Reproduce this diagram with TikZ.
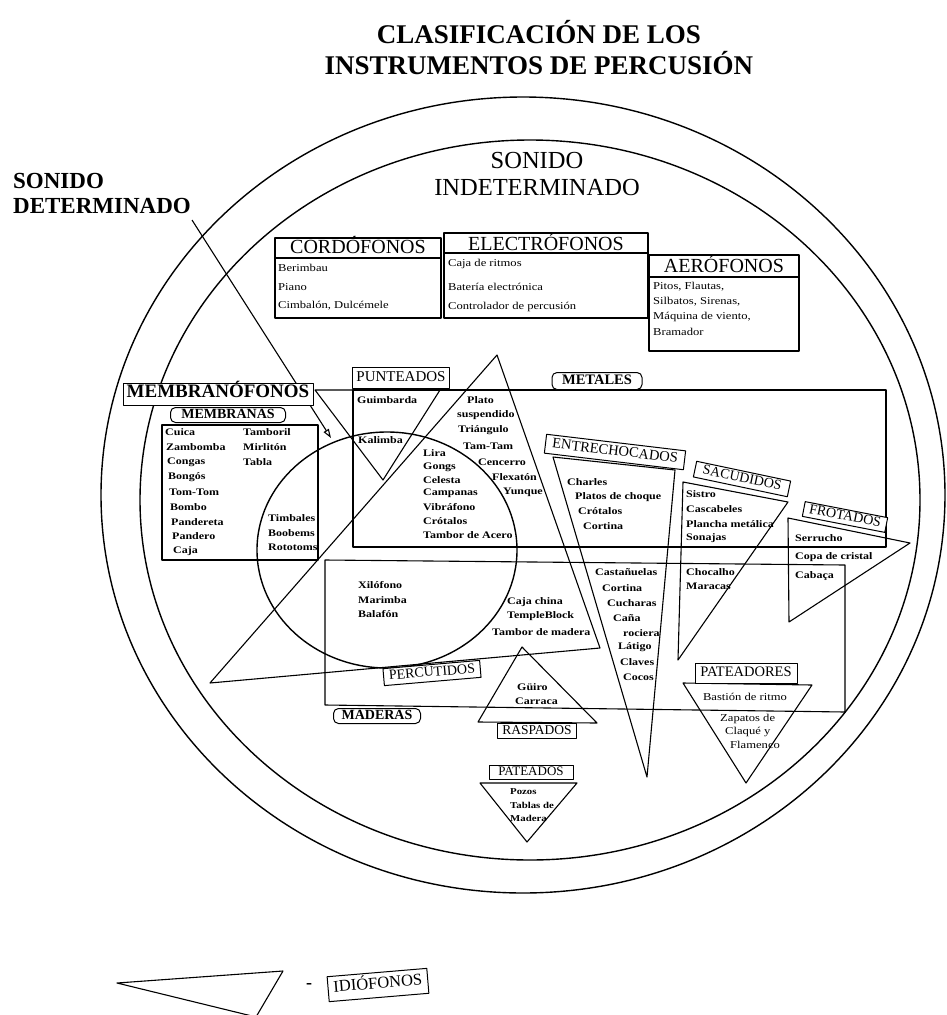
\documentclass[tikz,border=0pt]{standalone}
\usepackage{fontspec}
\setmainfont{Liberation Serif}
\newfontfamily\itemfont[FakeStretch=1.2]{Liberation Serif}
\usetikzlibrary{arrows.meta}
\begin{document}
\begin{tikzpicture}[x=1pt,y=-1pt, line join=round,
  every node/.style={inner sep=0pt},
  shp/.style={line width=1.1pt},
  ring/.style={line width=1.4pt},
  lab/.style={draw, line width=1pt, fill=white, text height=0.66em, text depth=0pt, align=center},
  rlab/.style={lab, rounded corners=5pt},
  itb/.style={anchor=west, font={\itemfont\bfseries\fontsize{10}{12}\selectfont}},
  itr/.style={anchor=west, font={\itemfont\fontsize{10.5}{12}\selectfont}},
  boxtitle/.style={anchor=base, font={\fontsize{20}{20}\selectfont}}]
\useasboundingbox (0,0) rectangle (947,1015);
\fill[white] (0,0) rectangle (947,1015);

% titles
\node[anchor=base, font={\bfseries\fontsize{27}{27}\selectfont}] (title1) at (539,43) {CLASIFICACIÓN DE LOS};
\node[anchor=base, font={\bfseries\fontsize{27}{27}\selectfont}] (title2) at (539,74) {INSTRUMENTOS DE PERCUSIÓN};
\node[anchor=base, font={\fontsize{24.5}{24.5}\selectfont}] (ind1) at (537,168) {SONIDO};
\node[anchor=base, font={\fontsize{24.5}{24.5}\selectfont}] (ind2) at (537,195) {INDETERMINADO};
\node[anchor=base west, font={\bfseries\fontsize{23}{23}\selectfont}] (det1) at (13,188) {SONIDO};
\node[anchor=base west, font={\bfseries\fontsize{23}{23}\selectfont}] (det2) at (13,213) {DETERMINADO};

% circles
\draw[ring] (523,495) ellipse [x radius=422pt, y radius=398pt];
\draw[ring] (530,500) ellipse [x radius=390pt, y radius=360pt];
\draw[ring] (387,550) ellipse [x radius=130pt, y radius=118pt];

% big triangle and families
\draw[shp] (497,355) -- (600,648) -- (210,683) -- cycle;
\draw[shp] (315,390) -- (440,390) -- (383,480) -- cycle;
\draw[shp] (353,390) rectangle (886,547);
\draw[shp] (325,560) -- (845,565) -- (845,712) -- (325,705) -- cycle;
\draw[shp] (162,425) rectangle (318,560);
\draw[shp] (553,457) -- (675,470) -- (647,777) -- cycle;
\draw[shp] (683,482) -- (788,502) -- (678,660) -- cycle;
\draw[shp] (788,518) -- (910,543) -- (789,622) -- cycle;
\draw[shp] (522,647) -- (597,723) -- (478,722) -- cycle;
\draw[shp] (683,683) -- (812,685) -- (746,783) -- cycle;
\draw[shp] (480,783) -- (577,783) -- (527,842) -- cycle;

% top boxes
\draw[shp] (275,238) rectangle (441,318); \draw[shp] (275,258) -- (441,258);
\draw[shp] (444,233) rectangle (648,318); \draw[shp] (444,253) -- (648,253);
\draw[shp] (649,255) rectangle (799,351); \draw[shp] (649,277) -- (799,277);
\node[boxtitle] (cordo) at (358,253) {CORDÓFONOS};
\node[boxtitle] (electro) at (546,250) {ELECTRÓFONOS};
\node[boxtitle] (aero) at (724,272) {AERÓFONOS};

% pointer
\coordinate (ptrS) at (192,220);
\coordinate (ptrE) at (331,438);
\draw[shp, -{Triangle[open,length=9pt,width=6pt]}] (ptrS) -- (ptrE);

% labels
\node[lab, minimum width=190pt, minimum height=22pt, font={\bfseries\fontsize{19}{19}\selectfont}] (membranofonos) at (218,394) {MEMBRANÓFONOS};
\node[rlab, minimum width=115pt, minimum height=15pt, font={\bfseries\fontsize{14}{14}\selectfont}] (membranas) at (228,415) {MEMBRANAS};
\node[lab, minimum width=97pt, minimum height=21pt, font={\fontsize{15}{15}\selectfont}] (punteados) at (401,378) {PUNTEADOS};
\node[rlab, minimum width=90pt, minimum height=17pt, font={\bfseries\fontsize{14.5}{14.5}\selectfont}] (metales) at (597,381) {METALES};
\node[rlab, minimum width=87pt, minimum height=15pt, font={\bfseries\fontsize{14}{14}\selectfont}] (maderas) at (377,716) {MADERAS};
\node[lab, minimum width=79pt, minimum height=15pt, font={\fontsize{13.5}{13.5}\selectfont}] (raspados) at (537,731) {RASPADOS};
\node[lab, minimum width=102pt, minimum height=20pt, font={\fontsize{14.5}{14.5}\selectfont}] (pateadores) at (746,673) {PATEADORES};
\node[lab, minimum width=84pt, minimum height=14pt, font={\fontsize{13}{13}\selectfont}] (pateados) at (531,772) {PATEADOS};
\node[lab, rotate=-6.8, minimum width=140pt, minimum height=19pt, font={\fontsize{14.5}{14.5}\selectfont}] (entre) at (615,452) {ENTRECHOCADOS};
\node[lab, rotate=-11.9, minimum width=96pt, minimum height=16pt, font={\fontsize{14}{14}\selectfont}] (sacud) at (742,479) {SACUDIDOS};
\node[lab, rotate=-11, minimum width=84pt, minimum height=15pt, font={\fontsize{14}{14}\selectfont}] (frot) at (845,517) {FROTADOS};
\node[lab, rotate=4.9, minimum width=97pt, minimum height=17pt, font={\fontsize{14}{14}\selectfont}] (percut) at (432,673) {PERCUTIDOS};

% items: top boxes
\foreach \t/\y [count=\i] in {Berimbau/268, Piano/287, {Cimbalón, Dulcémele}/306}
  \node[itr, name=cor\i] at (278,\y) {\t};
\foreach \t/\y [count=\i] in {Caja de ritmos/264, Batería electrónica/287, Controlador de percusión/307}
  \node[itr, name=ele\i] at (448,\y) {\t};
\foreach \t/\y [count=\i] in {{Pitos, Flautas,}/287, {Silbatos, Sirenas,}/302, {Máquina de viento,}/317, Bramador/332}
  \node[itr, name=aer\i] at (653,\y) {\t};

% membranas
\foreach \t/\y [count=\i] in {Cuica/432, Zambomba/447, Congas/462, Bongós/477, Tom-Tom/492, Bombo/507, Pandereta/522, Pandero/536, Caja/551}
  \node[itb, name=mema\i] at (164+\i,\y) {\t};
\foreach \t/\y [count=\i] in {Tamboril/432, Mirlitón/447, Tabla/462}
  \node[itb, name=memb\i] at (243,\y) {\t};
\foreach \t/\y [count=\i] in {Timbales/518, Boobems/533, Rototoms/547}
  \node[itb, name=memc\i] at (268,\y) {\t};

% punteados
\node[itb] (guimb) at (357,400) {Guimbarda};
\node[itb] (kalim) at (358,440) {Kalimba};

% metales
\foreach \t/\x/\y [count=\i] in {Plato/467/400, suspendido/457/415, Triángulo/458/430, Tam-Tam/463/446, Cencerro/478/462, Flexatón/492/477, Yunque/503/492}
  \node[itb, name=meta\i] at (\x,\y) {\t};
\foreach \t/\y [count=\i] in {Lira/453, Gongs/467, Celesta/480, Campanas/493, Vibráfono/507, Crótalos/521, Tambor de Acero/535}
  \node[itb, name=metb\i] at (423,\y) {\t};

% entrechocados
\foreach \t/\x/\y [count=\i] in {Charles/567/482, Platos de choque/575/497, Crótalos/578/511, Cortina/583/526,
  Castañuelas/595/572, Cortina/602/588, Cucharas/607/603, Caña/613/618, rociera/623/633, Látigo/618/647, Claves/620/662, Cocos/623/677}
  \node[itb, name=ent\i] at (\x,\y) {\t};

% sacudidos
\foreach \t/\y [count=\i] in {Sistro/494, Cascabeles/509, Plancha metálica/524, Sonajas/538, Chocalho/572, Maracas/586}
  \node[itb, name=sac\i] at (686,\y) {\t};

% frotados
\foreach \t/\y [count=\i] in {Serrucho/538, Copa de cristal/557, Cabaça/576}
  \node[itb, name=fro\i] at (795,\y) {\t};

% maderas
\foreach \t/\y [count=\i] in {Xilófono/585, Marimba/600, Balafón/614}
  \node[itb, name=mad\i] at (358,\y) {\t};
\foreach \t/\x/\y [count=\i] in {Caja china/507/602, TempleBlock/507/616, Tambor de madera/492/632}
  \node[itb, name=madb\i] at (\x,\y) {\t};

% raspados
\node[itb] (guiro) at (517,687) {Güiro};
\node[itb] (carraca) at (515,701) {Carraca};

% pateadores
\node[itr, anchor=center] (baston) at (745,697) {Bastión de ritmo};
\foreach \t/\x/\y [count=\i] in {Zapatos de/720/719, Claqué y/725/732, Flamenco/730/745}
  \node[itr, name=pat\i] at (\x,\y) {\t};

% pateados
\foreach \t/\y [count=\i] in {Pozos/792, Tablas de/805, Madera/818}
  \node[itb, font={\itemfont\bfseries\fontsize{9}{11}\selectfont}, name=pto\i] at (510,\y) {\t};

% legend
\draw[shp] (117,983) -- (283,971) -- (256,1017) -- cycle;
\node[font={\bfseries\fontsize{18}{18}\selectfont}] (dash) at (309,986) {-};
\node[lab, rotate=4.8, minimum width=100pt, minimum height=25pt, font={\fontsize{16.5}{16.5}\selectfont}] (idio) at (378,985) {IDIÓFONOS};
\end{tikzpicture}
\end{document}
